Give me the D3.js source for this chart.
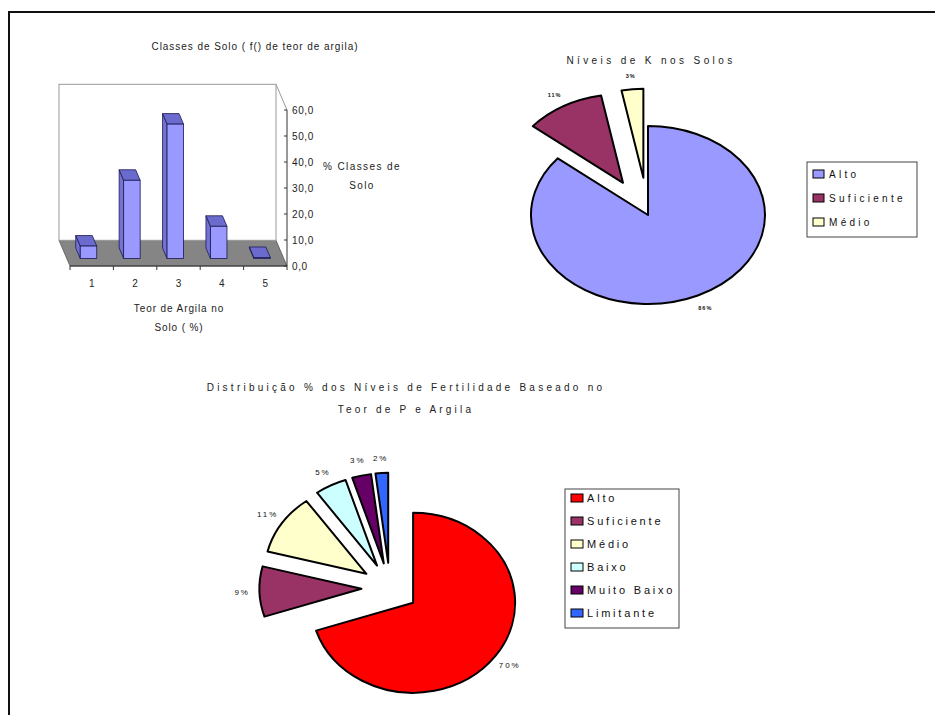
<!DOCTYPE html>
<html>
<head>
<meta charset="utf-8">
<script src="https://cdn.jsdelivr.net/npm/d3@7"></script>
<style>
  html, body { margin: 0; padding: 0; background: #fff; }
  svg { display: block; font-family: "Liberation Sans", Arial, sans-serif; }
</style>
</head>
<body>
<svg id="page" width="935" height="715"></svg>
<script>
// --- Classes de solo (gráfico de colunas 3D)
const barCategories = ["1", "2", "3", "4", "5"];
const barValues = [4.8, 30.1, 51.7, 12.4, 0.4];
const barTicks = [0, 10, 20, 30, 40, 50, 60];

// --- Níveis de K nos solos
const kLevels = ["Alto", "Suficiente", "Médio"];
const kShares = [86, 11, 3];
const kColors = ["#9999FF", "#993366", "#FFFFCC"];

// --- Níveis de fertilidade (P e argila)
const pLevels = ["Alto", "Suficiente", "Médio", "Baixo", "Muito Baixo", "Limitante"];
const pShares = [70, 9, 11, 5, 3, 2];
const pColors = ["#FF0000", "#993366", "#FFFFCC", "#CCFFFF", "#660066", "#3366FF"];

const svg = d3.select("#page");

// page frame
svg.append("rect").attr("x", 9).attr("y", 12).attr("width", 940).attr("height", 720)
  .attr("fill", "none").attr("stroke", "#111").attr("stroke-width", 2);

// ================= 3D column chart =================
(function () {
  const g = svg.append("g");
  const x = d3.scaleBand().domain(barCategories).range([70, 287]);
  const y = d3.scaleLinear().domain([0, 60]).range([266, 110]);
  const DX = -11, DY = -25.7;               // depth vector (front -> back)
  const off = f => [DX * f, DY * f];
  const fFront = 0.29, fBack = 0.70, widthRatio = 0.38;
  const fmt = d3.formatLocale({ decimal: ",", thousands: ".", grouping: [3], currency: ["", ""] }).format(".1f");

  const x0 = x.range()[0], x1 = x.range()[1], yb = y(0), yt = y(60);
  const [bx, by] = off(1);

  // floor
  g.append("polygon")
    .attr("points", [[x0 + bx, yb + by], [x1 + bx, yb + by], [x1, yb], [x0, yb]].join(" "))
    .attr("fill", "#858585").attr("stroke", "#555").attr("stroke-width", 0.8);
  // back wall
  g.append("rect").attr("x", x0 + bx).attr("y", yt + by)
    .attr("width", x1 - x0).attr("height", yb - yt)
    .attr("fill", "#fff").attr("stroke", "#999").attr("stroke-width", 1);
  // right edge toward the value axis
  g.append("line").attr("x1", x1 + bx).attr("y1", yt + by).attr("x2", x1).attr("y2", yt)
    .attr("stroke", "#999").attr("stroke-width", 1);

  // bars
  const bw = x.bandwidth() * widthRatio;
  barCategories.forEach((c, i) => {
    const v = barValues[i];
    const left = x(c) + (x.bandwidth() - bw) / 2, right = left + bw;
    const [fx, fy] = off(fFront), [kx, ky] = off(fBack);
    const top = y(v), bot = y(0);
    const stroke = "#1a1a50";
    // left side face
    g.append("polygon")
      .attr("points", [[left + fx, top + fy], [left + kx, top + ky], [left + kx, bot + ky], [left + fx, bot + fy]].join(" "))
      .attr("fill", "#7373d6").attr("stroke", stroke).attr("stroke-width", 0.8);
    // top face
    g.append("polygon")
      .attr("points", [[left + fx, top + fy], [right + fx, top + fy], [right + kx, top + ky], [left + kx, top + ky]].join(" "))
      .attr("fill", "#6b6bce").attr("stroke", stroke).attr("stroke-width", 0.8);
    // front face
    g.append("rect").attr("x", left + fx).attr("y", top + fy)
      .attr("width", bw).attr("height", bot - top)
      .attr("fill", "#9999FF").attr("stroke", stroke).attr("stroke-width", 0.8);
  });

  // value axis
  g.append("line").attr("x1", x1).attr("y1", yt).attr("x2", x1).attr("y2", yb)
    .attr("stroke", "#333").attr("stroke-width", 1);
  barTicks.forEach(t => {
    g.append("line").attr("x1", x1 - 3).attr("x2", x1).attr("y1", y(t)).attr("y2", y(t))
      .attr("stroke", "#333");
    g.append("text").attr("x", x1 + 5).attr("y", y(t) + 4)
      .attr("font-size", 10).attr("letter-spacing", 0.6).attr("fill", "#222")
      .text(fmt(t));
  });

  // category axis
  g.append("line").attr("x1", x0).attr("x2", x1).attr("y1", yb).attr("y2", yb)
    .attr("stroke", "#333");
  x.domain().concat(["end"]).forEach((c, i) => {
    const px = i < barCategories.length ? x(c) : x1;
    g.append("line").attr("x1", px).attr("x2", px).attr("y1", yb).attr("y2", yb + 4).attr("stroke", "#333");
  });
  barCategories.forEach(c => {
    g.append("text").attr("x", x(c) + x.bandwidth() / 2).attr("y", 287)
      .attr("text-anchor", "middle").attr("font-size", 10).attr("fill", "#222").text(c);
  });

  // titles
  g.append("text").attr("x", 255).attr("y", 50).attr("text-anchor", "middle")
    .attr("font-size", 10).attr("letter-spacing", 0.95).attr("fill", "#222")
    .text("Classes de Solo ( f() de teor de argila)");
  g.append("text").attr("x", 362).attr("y", 170).attr("text-anchor", "middle")
    .attr("font-size", 10).attr("letter-spacing", 1.4).attr("fill", "#222").text("% Classes de");
  g.append("text").attr("x", 362).attr("y", 189).attr("text-anchor", "middle")
    .attr("font-size", 10).attr("letter-spacing", 1.4).attr("fill", "#222").text("Solo");
  g.append("text").attr("x", 179).attr("y", 312).attr("text-anchor", "middle")
    .attr("font-size", 10).attr("letter-spacing", 0.9).attr("fill", "#222").text("Teor de Argila no");
  g.append("text").attr("x", 179).attr("y", 331).attr("text-anchor", "middle")
    .attr("font-size", 10).attr("letter-spacing", 0.9).attr("fill", "#222").text("Solo ( %)");
})();

// ================= exploded elliptical pies =================
function drawPie(opts) {
  const { cx, cy, rx, ry, values, colors, explode, labelK, labelSize, labelSpacing, labelWeight } = opts;
  const pie = d3.pie().sort(null).value(d => d);
  const arcs = pie(values);
  const arc = d3.arc().innerRadius(0).outerRadius(1);
  const g = svg.append("g").attr("transform", `translate(${cx},${cy}) scale(${rx},${ry})`);
  arcs.forEach((a, i) => {
    const mid = (a.startAngle + a.endAngle) / 2;
    const e = explode[i];
    g.append("path")
      .attr("d", arc(a))
      .attr("transform", `translate(${e * Math.sin(mid)},${-e * Math.cos(mid)})`)
      .attr("fill", colors[i]).attr("stroke", "#000").attr("stroke-width", 2)
      .attr("stroke-linejoin", "round")
      .attr("vector-effect", "non-scaling-stroke");
    const k = e + labelK;
    svg.append("text")
      .attr("x", cx + rx * k * Math.sin(mid))
      .attr("y", cy - ry * k * Math.cos(mid) + labelSize * 0.35)
      .attr("text-anchor", "middle").attr("font-size", labelSize)
      .attr("font-weight", labelWeight).attr("letter-spacing", labelSpacing)
      .attr("fill", "#111").text(values[i] + "%");
  });
}

function drawLegend(opts) {
  const { x, y, w, h, names, colors, rowY, fontSize, spacing, sw, sh, gap } = opts;
  const g = svg.append("g");
  g.append("rect").attr("x", x).attr("y", y).attr("width", w).attr("height", h)
    .attr("fill", "#fff").attr("stroke", "#444").attr("stroke-width", 1);
  names.forEach((n, i) => {
    const yy = rowY(i);
    g.append("rect").attr("x", x + 6).attr("y", yy - sh / 2).attr("width", sw).attr("height", sh)
      .attr("fill", colors[i]).attr("stroke", "#000").attr("stroke-width", 1);
    g.append("text").attr("x", x + 6 + sw + gap).attr("y", yy + fontSize * 0.35)
      .attr("font-size", fontSize).attr("letter-spacing", spacing).attr("fill", "#111").text(n);
  });
}

// Níveis de K
svg.append("text").attr("x", 651).attr("y", 64).attr("text-anchor", "middle")
  .attr("font-size", 10).attr("letter-spacing", 3.4).attr("fill", "#222").text("Níveis de K nos Solos");
drawPie({
  cx: 648, cy: 215, rx: 117, ry: 89, values: kShares, colors: kColors,
  explode: [0, 0.42, 0.42], labelK: 1.15, labelSize: 5.5, labelSpacing: 1, labelWeight: "bold"
});
drawLegend({
  x: 807, y: 162, w: 110, h: 75, names: kLevels, colors: kColors,
  rowY: i => 174 + i * 24, fontSize: 10, spacing: 3.3, sw: 11, sh: 8, gap: 5
});

// Fertilidade
svg.append("text").attr("x", 406).attr("y", 391).attr("text-anchor", "middle")
  .attr("font-size", 10).attr("letter-spacing", 3.25).attr("fill", "#222")
  .text("Distribuição % dos Níveis de Fertilidade Baseado no");
svg.append("text").attr("x", 406).attr("y", 413).attr("text-anchor", "middle")
  .attr("font-size", 10).attr("letter-spacing", 3.2).attr("fill", "#222")
  .text("Teor de P e Argila");
drawPie({
  cx: 390, cy: 588, rx: 102, ry: 90, values: pShares, colors: pColors,
  explode: pShares.map(() => 0.28), labelK: 1.17, labelSize: 8, labelSpacing: 1.9, labelWeight: "normal"
});
drawLegend({
  x: 565, y: 489, w: 114, h: 139, names: pLevels, colors: pColors,
  rowY: i => 498 + i * 23, fontSize: 11, spacing: 2.8, sw: 12, sh: 8, gap: 4
});
</script>
</body>
</html>
